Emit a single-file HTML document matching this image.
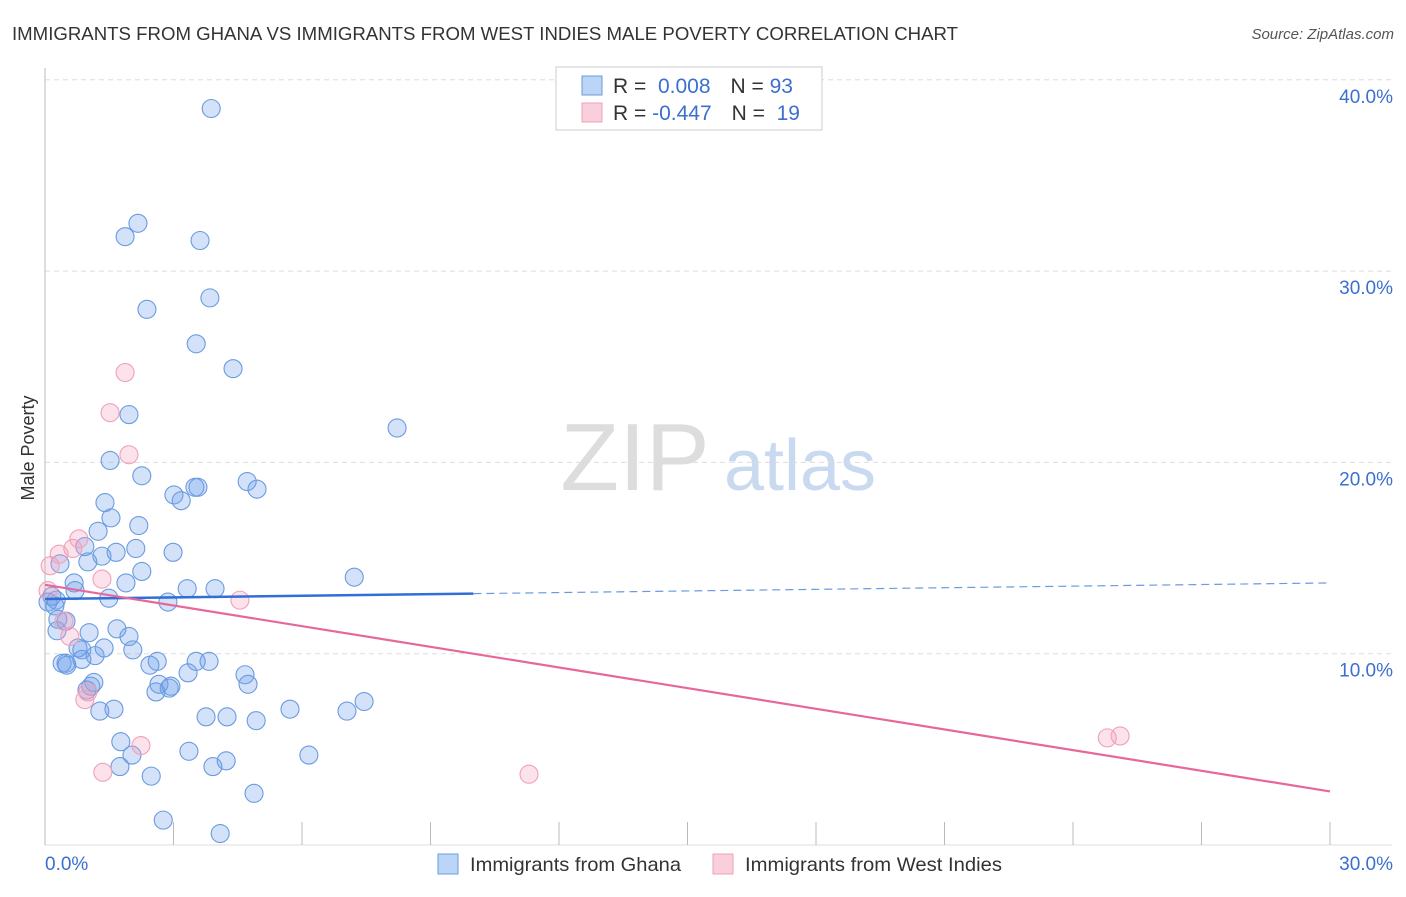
<!DOCTYPE html>
<html><head><meta charset="utf-8"><style>
body{margin:0;background:#fff;font-family:"Liberation Sans",sans-serif}
svg text{font-family:"Liberation Sans",sans-serif}
</style></head><body>
<svg id="chart" width="1406" height="892">
<text x="12" y="40" font-size="18.5" fill="#333" textLength="946" lengthAdjust="spacingAndGlyphs">IMMIGRANTS FROM GHANA VS IMMIGRANTS FROM WEST INDIES MALE POVERTY CORRELATION CHART</text>
<text x="1394" y="39" font-size="15" fill="#555" text-anchor="end" font-style="italic">Source: ZipAtlas.com</text>
<text x="42" y="456" font-size="18" fill="#333" text-anchor="middle" transform="rotate(-90 34 456)">Male Poverty</text>
<g><text x="635" y="490" font-size="96" fill="#ddd" text-anchor="middle" font-family="Liberation Serif">ZIP</text><text x="800" y="490" font-size="72" fill="#c8d9f0" text-anchor="middle">atlas</text></g>
<g id="grid"></g><g id="axes"></g><g id="pts"></g><g id="trends"></g>
<g>
<rect x="556" y="67" width="266" height="63" fill="#fff" stroke="#ccc"/>
<rect x="582" y="76" width="20" height="19" fill="#bcd4f5" stroke="#6a9be0"/>
<rect x="582" y="103" width="20" height="19" fill="#f9cfdc" stroke="#f0a0b8"/>
<text x="613" y="93" font-size="21" fill="#333">R = <tspan fill="#3b6fd0">&#160;0.008</tspan><tspan dx="20">N = </tspan><tspan fill="#3b6fd0">93</tspan></text>
<text x="613" y="120" font-size="21" fill="#333">R = <tspan fill="#3b6fd0">-0.447</tspan><tspan dx="20">N = </tspan><tspan fill="#3b6fd0">&#160;19</tspan></text>
</g>
<g>
<rect x="438" y="854" width="20" height="20" fill="#bcd4f5" stroke="#6a9be0"/>
<text x="470" y="871" font-size="19.5" fill="#333" textLength="211" lengthAdjust="spacingAndGlyphs">Immigrants from Ghana</text>
<rect x="713" y="854" width="20" height="20" fill="#f9cfdc" stroke="#f0a0b8"/>
<text x="745" y="871" font-size="19.5" fill="#333" textLength="257" lengthAdjust="spacingAndGlyphs">Immigrants from West Indies</text>
</g>
</svg>
<script>
const yTicks=[10,20,30,40];
const yTickLabels=["10.0%","20.0%","30.0%","40.0%"];
const xTickLabels=["0.0%","30.0%"];
const ghanaX=[3.88,2.17,1.87,3.62,3.85,2.38,3.53,4.39,1.96,8.22,1.52,2.26,4.72,3.50,3.57,4.95,3.01,3.18,1.40,1.54,2.19,1.24,0.93,2.12,1.66,2.99,1.33,1.00,0.35,2.26,7.22,0.68,1.89,3.32,3.97,0.70,0.16,0.26,0.07,1.49,2.87,0.23,0.30,0.49,0.28,1.03,1.68,1.96,0.77,0.86,1.38,2.05,1.17,0.86,3.53,3.83,2.62,0.40,0.49,0.51,2.45,3.34,4.67,1.14,1.07,2.66,2.94,4.74,2.90,2.59,0.98,7.45,1.61,1.28,5.72,7.05,3.76,4.25,4.93,1.77,2.03,3.36,6.16,4.23,1.75,3.92,2.48,4.88,2.76,4.09];
const ghanaY=[38.5,32.5,31.8,31.6,28.6,28.0,26.2,24.9,22.5,21.8,20.1,19.3,19.0,18.7,18.7,18.6,18.3,18.0,17.9,17.1,16.7,16.4,15.6,15.5,15.3,15.3,15.1,14.8,14.7,14.3,14.0,13.7,13.7,13.4,13.4,13.3,13.0,12.8,12.7,12.9,12.7,12.5,11.8,11.7,11.2,11.1,11.3,10.9,10.3,10.2,10.3,10.2,9.9,9.7,9.6,9.6,9.6,9.5,9.5,9.4,9.4,9.0,8.9,8.5,8.3,8.4,8.3,8.4,8.2,8.0,8.1,7.5,7.1,7.0,7.1,7.0,6.7,6.7,6.5,5.4,4.7,4.9,4.7,4.4,4.1,4.1,3.6,2.7,1.3,0.6];
const wiX=[1.87,1.52,1.96,0.79,0.65,0.33,0.12,1.33,4.55,0.44,0.58,1.00,0.93,2.24,1.35,11.30,24.8,25.1,0.07];
const wiY=[24.7,22.6,20.4,16.0,15.5,15.2,14.6,13.9,12.8,11.7,10.9,8.0,7.6,5.2,3.8,3.7,5.6,5.7,13.3];
const ghanaTrend=[12.86,13.7];
const wiTrend=[13.6,2.8];
const NS="http://www.w3.org/2000/svg";
const X=v=>45+v/30*1285, Y=v=>845-v/10*191.3;
function mk(t,a,p){const e=document.createElementNS(NS,t);for(const k in a)e.setAttribute(k,a[k]);document.getElementById(p).appendChild(e);return e;}
yTicks.forEach((t,i)=>{
 const g=mk('line',{x1:45,x2:1392,y1:Y(t),y2:Y(t),stroke:'#ddd','stroke-dasharray':'5,4'},'grid');
 
 
 const l=mk('text',{x:1393,y:Y(t)+23,'font-size':19,fill:'#3b6fd0','text-anchor':'end'},'grid');
 l.textContent=yTickLabels[i];
 
 
});
const ax=mk('line',{x1:45,x2:45,y1:68,y2:845,stroke:'#bbb'},'axes');


const bx=mk('line',{x1:45,x2:1392,y1:845,y2:845,stroke:'#ddd'},'axes');


for(let i=0;i<=10;i++){const t=mk('line',{x1:X(i*3),x2:X(i*3),y1:822,y2:845,stroke:'#bbb'},'axes');
 
 }
[[0,'start',45],[30,'end',1393]].forEach((d,i)=>{const t=mk('text',{x:d[2],y:870,'font-size':19,fill:'#3b6fd0','text-anchor':d[1]},'axes');t.textContent=xTickLabels[i];
 
 });
ghanaX.forEach((v,i)=>{const c=mk('circle',{cx:X(v),cy:Y(ghanaY[i]),r:9,fill:'rgba(110,160,235,0.3)',stroke:'#6a9be0','stroke-width':1.1},'pts');
 
 });
wiX.forEach((v,i)=>{const c=mk('circle',{cx:X(v),cy:Y(wiY[i]),r:9,fill:'rgba(245,160,190,0.3)',stroke:'#f0a0b8','stroke-width':1.1},'pts');
 
 });
const gy=x=>ghanaTrend[0]+(ghanaTrend[1]-ghanaTrend[0])*x/30;
let l1=mk('line',{x1:X(0),y1:Y(gy(0)),x2:X(10),y2:Y(gy(10)),stroke:'#2f6fd6','stroke-width':2.5},'trends');


let l2=mk('line',{x1:X(10),y1:Y(gy(10)),x2:X(30),y2:Y(gy(30)),stroke:'#6a9be0','stroke-width':1.2,'stroke-dasharray':'8,5'},'trends');


let l3=mk('line',{x1:X(0),y1:Y(wiTrend[0]),x2:X(30),y2:Y(wiTrend[1]),stroke:'#e8679a','stroke-width':2.2},'trends');


</script>
</body></html>
